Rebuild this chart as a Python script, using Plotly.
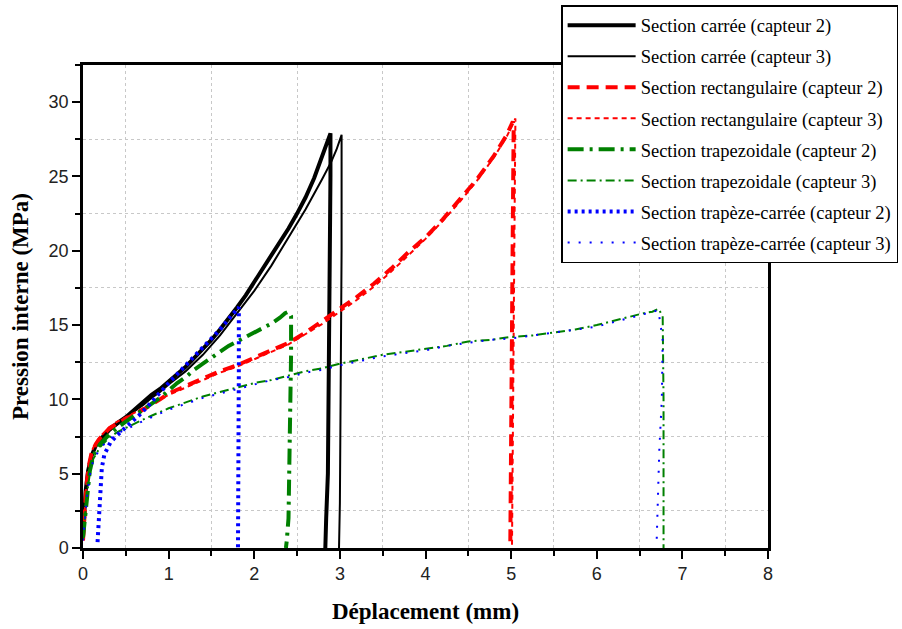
import plotly.graph_objects as go

# ---- data ----
carre_c2_x = [0.00, 0.01, 0.03, 0.06, 0.10, 0.15, 0.20, 0.30, 0.40, 0.50, 0.60, 0.70, 0.80, 0.90, 1.00, 1.10, 1.20, 1.30, 1.40, 1.50, 1.60, 1.70, 1.80, 1.90, 2.00, 2.10, 2.20, 2.30, 2.40, 2.50, 2.60, 2.70, 2.80, 2.86, 2.89, 2.89, 2.88, 2.87, 2.86, 2.84, 2.83]
carre_c2_y = [0.8, 2.0, 3.8, 5.2, 6.2, 6.9, 7.3, 7.9, 8.4, 8.8, 9.3, 9.8, 10.3, 10.7, 11.2, 11.7, 12.2, 12.8, 13.4, 14.0, 14.7, 15.4, 16.2, 17.0, 17.9, 18.7, 19.6, 20.5, 21.5, 22.5, 23.6, 24.9, 26.4, 27.4, 27.9, 25.0, 18.0, 10.0, 5.0, 2.0, 0.0]

carre_c3_x = [0.00, 0.01, 0.03, 0.06, 0.10, 0.15, 0.20, 0.30, 0.40, 0.50, 0.60, 0.70, 0.80, 0.90, 1.00, 1.20, 1.40, 1.60, 1.80, 2.00, 2.20, 2.40, 2.60, 2.80, 2.90, 2.96, 3.00, 3.02, 3.02, 3.01, 3.00, 2.99]
carre_c3_y = [0.8, 2.2, 3.9, 5.3, 6.2, 6.9, 7.3, 7.9, 8.3, 8.7, 9.2, 9.6, 10.1, 10.5, 11.0, 11.9, 13.0, 14.3, 15.8, 17.3, 19.0, 20.9, 22.8, 24.9, 26.0, 26.8, 27.4, 27.8, 20.0, 10.0, 3.0, 0.0]

rect_c2_x = [0.00, 0.02, 0.04, 0.07, 0.10, 0.15, 0.20, 0.30, 0.40, 0.50, 0.70, 0.90, 1.00, 1.20, 1.40, 1.60, 1.80, 2.00, 2.20, 2.40, 2.60, 2.80, 3.00, 3.20, 3.40, 3.60, 3.80, 4.00, 4.20, 4.40, 4.60, 4.80, 4.95, 5.02, 5.03, 5.02, 5.01, 5.00, 4.99]
rect_c2_y = [0.5, 2.5, 4.2, 5.6, 6.4, 7.0, 7.4, 8.0, 8.4, 8.7, 9.3, 10.0, 10.4, 10.9, 11.4, 11.9, 12.3, 12.8, 13.3, 13.8, 14.5, 15.3, 16.1, 16.9, 17.8, 18.8, 19.9, 20.9, 22.1, 23.4, 24.8, 26.4, 27.8, 28.7, 28.5, 22.0, 12.0, 4.0, 0.0]

rect_c3_x = [0.00, 0.02, 0.04, 0.07, 0.10, 0.15, 0.20, 0.30, 0.40, 0.50, 0.70, 0.90, 1.00, 1.20, 1.40, 1.60, 1.80, 2.00, 2.20, 2.40, 2.60, 2.80, 3.00, 3.20, 3.40, 3.60, 3.80, 4.00, 4.20, 4.40, 4.60, 4.80, 4.95, 5.03, 5.05, 5.04, 5.03, 5.02, 5.01]
rect_c3_y = [0.6, 2.6, 4.3, 5.7, 6.5, 7.1, 7.5, 8.1, 8.5, 8.8, 9.4, 10.0, 10.3, 10.8, 11.3, 11.8, 12.2, 12.7, 13.2, 13.7, 14.4, 15.1, 15.9, 16.7, 17.6, 18.6, 19.7, 20.8, 22.0, 23.3, 24.7, 26.3, 27.7, 28.6, 28.9, 22.0, 12.0, 4.0, 0.0]

trap_c2_x = [0.00, 0.02, 0.05, 0.08, 0.12, 0.20, 0.30, 0.40, 0.50, 0.60, 0.70, 0.80, 0.90, 1.00, 1.10, 1.20, 1.30, 1.40, 1.50, 1.60, 1.70, 1.80, 1.90, 2.00, 2.10, 2.20, 2.30, 2.36, 2.40, 2.43, 2.43, 2.42, 2.41, 2.40, 2.38, 2.37]
trap_c2_y = [0.7, 2.0, 3.8, 5.2, 6.2, 7.0, 7.6, 8.1, 8.5, 8.9, 9.3, 9.7, 10.1, 10.6, 11.1, 11.5, 12.0, 12.4, 12.8, 13.2, 13.6, 13.9, 14.2, 14.5, 14.8, 15.1, 15.5, 15.8, 15.9, 15.6, 13.0, 9.0, 5.0, 2.0, 0.5, 0.0]

trap_c3_x = [0.00, 0.02, 0.05, 0.08, 0.12, 0.20, 0.30, 0.40, 0.50, 0.65, 0.80, 1.00, 1.20, 1.40, 1.60, 1.80, 2.00, 2.20, 2.40, 2.60, 2.80, 3.00, 3.25, 3.50, 3.75, 4.00, 4.25, 4.50, 4.75, 5.00, 5.25, 5.50, 5.75, 6.00, 6.20, 6.40, 6.55, 6.65, 6.72, 6.77, 6.78, 6.78, 6.78, 6.78]
trap_c3_y = [0.6, 2.0, 3.8, 5.0, 6.0, 6.8, 7.4, 7.8, 8.1, 8.5, 8.9, 9.4, 9.8, 10.2, 10.5, 10.8, 11.1, 11.3, 11.6, 11.9, 12.1, 12.4, 12.7, 13.0, 13.2, 13.4, 13.6, 13.9, 14.0, 14.2, 14.3, 14.5, 14.7, 15.0, 15.3, 15.6, 15.8, 15.9, 16.1, 15.6, 10.0, 5.0, 1.0, 0.0]

tc_c2_x = [0.17, 0.18, 0.19, 0.20, 0.22, 0.25, 0.32, 0.40, 0.52, 0.65, 0.75, 0.90, 1.00, 1.10, 1.20, 1.30, 1.40, 1.50, 1.60, 1.70, 1.78, 1.82, 1.82, 1.82, 1.81, 1.81]
tc_c2_y = [0.4, 1.5, 3.0, 4.3, 5.4, 6.3, 7.1, 7.6, 8.2, 8.9, 9.5, 10.5, 11.1, 11.7, 12.3, 12.9, 13.5, 14.1, 14.7, 15.4, 15.9, 16.2, 12.0, 6.0, 2.0, 0.0]

tc_c3_x = [0.00, 0.02, 0.05, 0.08, 0.12, 0.20, 0.30, 0.40, 0.50, 0.65, 0.80, 1.00, 1.20, 1.40, 1.60, 1.80, 2.00, 2.20, 2.40, 2.60, 2.80, 3.00, 3.25, 3.50, 3.75, 4.00, 4.25, 4.50, 4.75, 5.00, 5.25, 5.50, 5.75, 6.00, 6.20, 6.40, 6.55, 6.65, 6.72, 6.77, 6.76, 6.73, 6.71, 6.70]
tc_c3_y = [0.5, 1.9, 3.6, 4.9, 5.9, 6.7, 7.3, 7.7, 8.0, 8.4, 8.8, 9.3, 9.7, 10.1, 10.4, 10.7, 11.0, 11.3, 11.5, 11.8, 12.0, 12.3, 12.6, 12.9, 13.1, 13.3, 13.6, 13.8, 14.0, 14.1, 14.3, 14.5, 14.7, 14.9, 15.2, 15.5, 15.7, 15.9, 16.0, 14.0, 10.0, 6.5, 2.0, 0.5]

names = [
    "Section carrée (capteur 2)",
    "Section carrée (capteur 3)",
    "Section rectangulaire (capteur 2)",
    "Section rectangulaire (capteur 3)",
    "Section trapezoidale (capteur 2)",
    "Section trapezoidale (capteur 3)",
    "Section trapèze-carrée (capteur 2)",
    "Section trapèze-carrée (capteur 3)",
]

series = [
    (carre_c2_x, carre_c2_y, "black", 4, "solid"),
    (carre_c3_x, carre_c3_y, "black", 2, "solid"),
    (rect_c2_x, rect_c2_y, "#ff0000", 4, "12px,7px"),
    (rect_c3_x, rect_c3_y, "#ff0000", 2, "5px,4px"),
    (trap_c2_x, trap_c2_y, "#008000", 4, "16px,6px,3px,6px"),
    (trap_c3_x, trap_c3_y, "#008000", 2, "9px,4px,2px,4px"),
    (tc_c2_x, tc_c2_y, "#0000ff", 4, "3px,4px"),
    (tc_c3_x, tc_c3_y, "#0000ff", 2, "2px,9px"),
]

fig = go.Figure()
for i, (xs, ys, col, w, dash) in enumerate(series):
    fig.add_trace(go.Scatter(
        x=xs, y=ys, mode="lines", name=names[i], legendgroup=f"g{i}",
        line=dict(color=col, width=w, dash=dash),
    ))

axis_common = dict(
    showline=True, linecolor="black", linewidth=2.5, mirror=True,
    ticks="outside", ticklen=8, tickwidth=2, tickcolor="black",
    showgrid=False, zeroline=False,
    tickfont=dict(family="Liberation Sans", size=18, color="#222"),
)

fig.update_xaxes(
    range=[0, 8], dtick=1, tick0=0,
    minor=dict(dtick=0.5, tick0=0, ticks="outside", ticklen=5, tickwidth=2, tickcolor="black",
               showgrid=True, gridcolor="#c8c8c8", griddash="dot", gridwidth=1),
    title=dict(text="<b>Déplacement (mm)</b>", font=dict(family="Liberation Serif", size=23, color="black"), standoff=20),
    **axis_common,
)
fig.update_yaxes(
    range=[0, 32.5], dtick=5, tick0=0,
    minor=dict(dtick=2.5, tick0=0, ticks="outside", ticklen=5, tickwidth=2, tickcolor="black",
               showgrid=True, gridcolor="#c8c8c8", griddash="dot", gridwidth=1),
    title=dict(text="<b>Pression interne (MPa)</b>", font=dict(family="Liberation Serif", size=23, color="black"), standoff=14),
    **axis_common,
)

fig.update_layout(
    width=902, height=629,
    margin=dict(l=83, r=134, t=65, b=81, autoexpand=False),
    plot_bgcolor="white", paper_bgcolor="white",
    legend=dict(
        x=0.698, y=1.124, xanchor="left", yanchor="top",
        bgcolor="white", bordercolor="black", borderwidth=1.5,
        font=dict(family="Liberation Serif", size=18.5, color="black"),
        tracegroupgap=4, itemwidth=68,
    ),
)

fig.write_html("out.html", config={"displayModeBar": False},
               post_script="document.body.style.margin='0px';")
